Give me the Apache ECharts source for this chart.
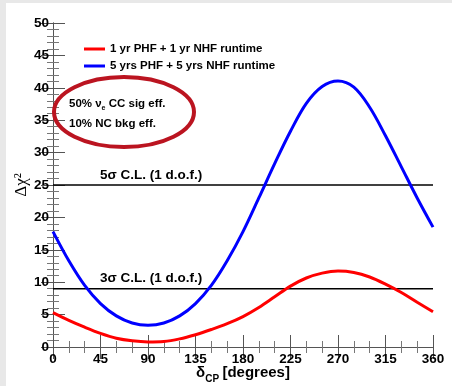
<!DOCTYPE html>
<html>
<head>
<meta charset="utf-8">
<script src="https://cdn.jsdelivr.net/npm/echarts@6/dist/echarts.min.js"></script>
<style>
  html, body { margin: 0; padding: 0; background: #e8e8e8; }
  #chart { width: 452px; height: 386px; }
</style>
</head>
<body>
<div id="chart"></div>
<script>
// CP phase grid (degrees)
const deltaCP = [0, 15, 30, 45, 60, 75, 90, 105, 120, 135, 150, 165, 180,
                 195, 210, 225, 240, 255, 270, 285, 300, 315, 330, 345, 360];
// Δχ² sensitivity, 1 yr PHF + 1 yr NHF
const chi2Short = [5.3, 4.1, 3.05, 2.1, 1.35, 0.95, 0.78, 0.85, 1.25, 1.9, 2.7, 3.6, 4.7,
                   6.1, 7.75, 9.4, 10.65, 11.4, 11.72, 11.5, 10.8, 9.7, 8.4, 6.9, 5.45];
// Δχ² sensitivity, 5 yrs PHF + 5 yrs NHF
const chi2Long = [17.8, 13.3, 9.5, 6.7, 4.8, 3.7, 3.35, 3.7, 4.8, 6.7, 9.5, 13.3, 17.8,
                  23.0, 28.3, 33.3, 37.6, 40.2, 41.05, 40.1, 37.0, 32.6, 27.8, 23.0, 18.5];
const seriesNames = ['1 yr PHF + 1 yr NHF runtime', '5 yrs PHF + 5 yrs NHF runtime'];
// Confidence-level thresholds
const clLevels = [25, 9];
const clLabels = ['5σ C.L. (1 d.o.f.)', '3σ C.L. (1 d.o.f.)'];
// Axis ranges / tick steps
const xRange = [0, 360], xStep = 45;
const yRange = [0, 50], yStep = 5;

const FONT = '"Liberation Sans", Arial, Helvetica, sans-serif';
const frameColor = '#555';

const chart = echarts.init(document.getElementById('chart'), null, { renderer: 'canvas' });

const pairs = (ys) => deltaCP.map((x, i) => [x, ys[i]]);

const axisLine = { show: true, lineStyle: { color: frameColor, width: 1 } };
const axisTick = { show: true, inside: true, length: 12, lineStyle: { color: frameColor } };
const minor = (n) => ({ show: true, splitNumber: n, length: 6, lineStyle: { color: '#777' } });

const clSeries = clLevels.map((lv) => ({
  type: 'line',
  data: [[xRange[0], lv], [xRange[1], lv]],
  symbol: 'none',
  silent: true,
  lineStyle: { color: '#000', width: 1.6 },
  z: 3
}));

const option = {
  backgroundColor: '#e8e8e8',
  animation: false,
  grid: { left: 53, top: 23, right: 19, bottom: 39, containLabel: false, outerBoundsMode: 'none' },
  legend: {
    data: seriesNames,
    orient: 'vertical',
    left: 79,
    top: 38,
    icon: 'rect',
    itemWidth: 21,
    itemHeight: 3,
    itemGap: 5,
    textStyle: { fontFamily: FONT, fontWeight: 'bold', fontSize: 11.5, color: '#000', lineHeight: 12 }
  },
  xAxis: [
    {
      type: 'value', min: xRange[0], max: xRange[1], interval: xStep,
      axisLine: axisLine, axisTick: axisTick, minorTick: minor(3), splitLine: { show: false },
      axisLabel: { fontFamily: FONT, fontWeight: 'bold', fontSize: 13.5, color: '#000', margin: 5 },
      name: '{g|δ}{s|CP} {g|[degrees]}',
      nameLocation: 'middle',
      nameGap: 18,
      nameMoveOverlap: false,
      nameTextStyle: {
        rich: {
          g: { fontFamily: FONT, fontWeight: 'bold', fontSize: 15, color: '#000', verticalAlign: 'top', lineHeight: 18 },
          s: { fontFamily: FONT, fontWeight: 'bold', fontSize: 10, color: '#000', verticalAlign: 'top', lineHeight: 18, padding: [9, 0, 0, 0] }
        }
      }
    },
    {
      type: 'value', position: 'top', min: xRange[0], max: xRange[1], interval: xStep,
      axisLine: axisLine, axisTick: axisTick, minorTick: minor(3),
      axisLabel: { show: false }, splitLine: { show: false }
    }
  ],
  yAxis: [
    {
      type: 'value', min: yRange[0], max: yRange[1], interval: yStep,
      axisLine: axisLine, axisTick: axisTick, minorTick: minor(5), splitLine: { show: false },
      axisLabel: { fontFamily: FONT, fontWeight: 'bold', fontSize: 13.5, color: '#000', margin: 4 },
      name: 'Δχ²',
      nameLocation: 'middle',
      nameGap: 23,
      nameRotate: 90,
      nameMoveOverlap: false,
      nameTextStyle: { fontFamily: '"Liberation Serif", "DejaVu Serif", serif', fontSize: 17, color: '#000' }
    },
    {
      type: 'value', position: 'right', min: yRange[0], max: yRange[1], interval: yStep,
      axisLine: axisLine, axisTick: axisTick, minorTick: minor(5),
      axisLabel: { show: false }, splitLine: { show: false }
    }
  ],
  graphic: [
    // white canvas panel
    { type: 'rect', left: 6, top: 3, shape: { width: 446, height: 383 }, style: { fill: '#fff' }, z: -100, silent: true },
    // efficiency note with its ellipse
    { type: 'ellipse', shape: { cx: 124, cy: 112, rx: 70, ry: 35 },
      style: { fill: 'none', stroke: '#bb1420', lineWidth: 4 }, z: 10, silent: true },
    { type: 'text', left: 69, top: 98, z: 11, silent: true,
      style: {
        text: '{t|50% ν}{e|e}{t| CC sig eff.}',
        rich: {
          t: { fontFamily: FONT, fontWeight: 'bold', fontSize: 11.5, fill: '#000', lineHeight: 14, verticalAlign: 'top' },
          e: { fontFamily: FONT, fontWeight: 'bold', fontSize: 7, fill: '#000', lineHeight: 14, verticalAlign: 'top', padding: [7, 0, 0, 0] }
        }
      } },
    { type: 'text', left: 69, top: 118, z: 11, silent: true,
      style: { text: '10% NC bkg eff.', font: 'bold 11.5px ' + FONT, fill: '#000' } },
    // confidence-level captions
    { type: 'text', left: 100, top: 168, z: 11, silent: true,
      style: { text: clLabels[0], font: 'bold 13.5px ' + FONT, fill: '#000' } },
    { type: 'text', left: 100, top: 271, z: 11, silent: true,
      style: { text: clLabels[1], font: 'bold 13.5px ' + FONT, fill: '#000' } }
  ],
  series: [
    {
      name: seriesNames[0], type: 'line', data: pairs(chi2Short),
      smooth: 0.35, symbol: 'none', color: '#ff0000',
      lineStyle: { color: '#ff0000', width: 3 }, z: 5
    },
    {
      name: seriesNames[1], type: 'line', data: pairs(chi2Long),
      smooth: 0.35, symbol: 'none', color: '#0000ff',
      lineStyle: { color: '#0000ff', width: 3 }, z: 5
    }
  ].concat(clSeries)
};

chart.setOption(option);
</script>
</body>
</html>
